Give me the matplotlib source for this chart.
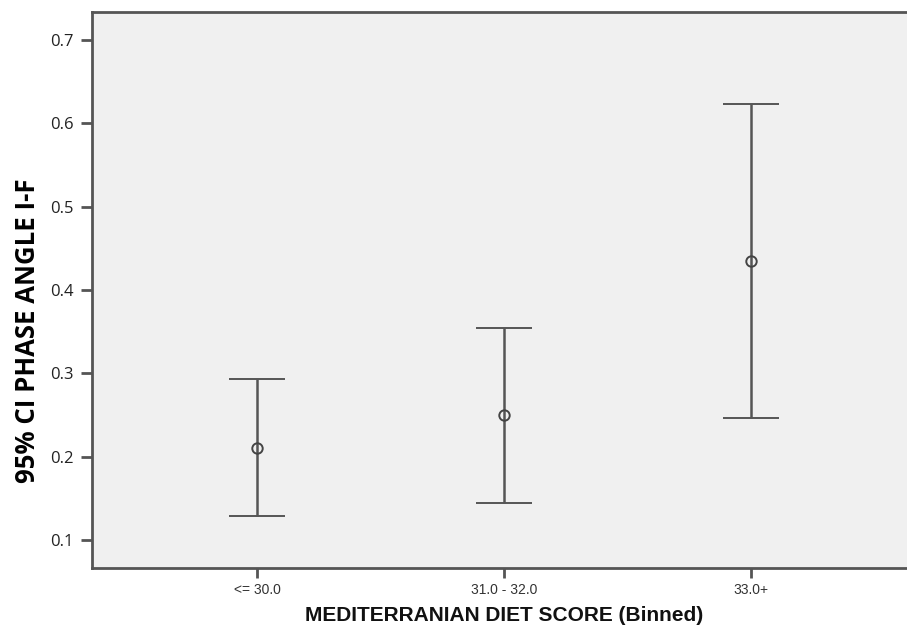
import matplotlib
matplotlib.use("Agg")
import matplotlib.pyplot as plt

categories = ["<= 30.0", "31.0 - 32.0", "33.0+"]
means = [0.210, 0.250, 0.435]
lower = [0.129, 0.145, 0.246]
upper = [0.293, 0.355, 0.623]
yticks = [0.1, 0.2, 0.3, 0.4, 0.5, 0.6, 0.7]

fig = plt.figure(figsize=(9.07, 6.26), dpi=100)
ax = fig.add_axes([92/907, 1 - 568/626, 1 - 92/907 + 0.01, (568 - 12)/626])
ax.set_facecolor("#f0f0f0")

x = list(range(len(categories)))
err_lo = [m - l for m, l in zip(means, lower)]
err_hi = [u - m for m, u in zip(means, upper)]
ax.errorbar(x, means, yerr=[err_lo, err_hi], fmt="o", color="#555555",
            mfc="none", mec="#444444", ms=7.5, mew=1.4, ecolor="#555555",
            elinewidth=1.8, capsize=20, capthick=1.8)

ax.set_xlim(-0.67, 2.67)
ax.set_ylim(0.0664, 0.7336)
ax.set_yticks(yticks)
ax.set_yticklabels([f"{v:.1f}" for v in yticks], fontsize=12, family="Open Sans", color="#222222")
ax.set_xticks(x)
ax.set_xticklabels(categories, fontsize=10, family="Liberation Sans", color="#333333")
ax.tick_params(axis="y", length=8, width=2, color="#555555", pad=5)
ax.tick_params(axis="x", length=7, width=2, color="#555555", pad=4)
for s in ["left", "bottom", "top"]:
    ax.spines[s].set_color("#555555")
    ax.spines[s].set_linewidth(2)
ax.spines["right"].set_visible(False)

ax.set_ylabel("95% CI PHASE ANGLE I-F", fontsize=18.5, fontweight="bold",
              family="Open Sans", color="black")
ax.yaxis.set_label_coords(-0.062, 0.426)
ax.set_xlabel("MEDITERRANIAN DIET SCORE (Binned)", fontsize=15, fontweight="bold",
              family="Liberation Sans", color="#111111")
ax.xaxis.set_label_coords(0.5, -0.069)

fig.savefig("out.png", dpi=100)
